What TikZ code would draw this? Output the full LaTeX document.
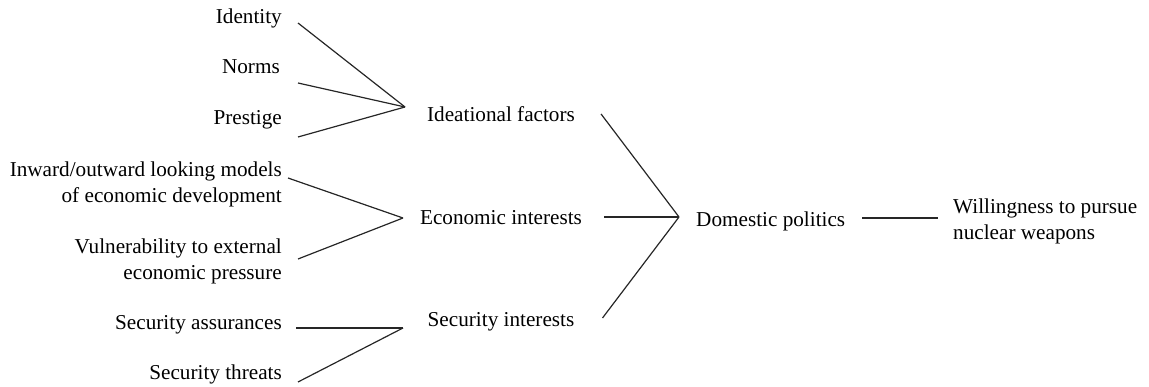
\documentclass[tikz,border=0pt]{standalone}
\usepackage{fontspec}
\setmainfont{Liberation Serif}
\begin{document}
\begin{tikzpicture}[x=1pt,y=-1pt,
  lbl/.style={inner sep=0pt,font=\fontsize{21.2}{26}\selectfont},
  conn/.style={line width=1.2pt,draw=black!85}]
\useasboundingbox (0,0) rectangle (1149,387);
% left column
\node[lbl,anchor=base east] (identity) at (282,24) {Identity};
\node[lbl,anchor=base east] (norms) at (280,74) {Norms};
\node[lbl,anchor=base east] (prestige) at (282,125) {Prestige};
\node[lbl,anchor=east,align=right] (inward) at (282,184) {Inward/outward looking models\\of economic development};
\node[lbl,anchor=east,align=right] (vuln) at (282,261) {Vulnerability to external\hspace{4pt}\\economic pressure};
\node[lbl,anchor=base east] (secass) at (282,330) {Security assurances};
\node[lbl,anchor=base east] (secthr) at (282,380) {Security threats};
% middle column
\node[lbl,anchor=base] (ideational) at (501,122) {Ideational factors};
\node[lbl,anchor=base] (economic) at (501,225) {Economic interests};
\node[lbl,anchor=base] (security) at (501,327) {Security interests};
% right
\node[lbl,anchor=base west] (domestic) at (696,227) {Domestic politics};
\node[lbl,anchor=west,align=left] (willing) at (953,221.5) {Willingness to pursue\\nuclear weapons};
% hubs
\coordinate (hubI) at (405,107);
\coordinate (hubE) at (403,218);
\coordinate (hubS) at (403,328);
\coordinate (hubD) at (679,217);
% connectors
\draw[conn] ([xshift=16pt,yshift=1pt]identity.base east) -- (hubI);
\draw[conn] ([xshift=18pt,yshift=-9pt]norms.base east) -- (hubI);
\draw[conn] ([xshift=16pt,yshift=-12pt]prestige.base east) -- (hubI);
\draw[conn] ([xshift=6pt,yshift=6pt]inward.east) -- (hubE);
\draw[conn] ([xshift=16pt,yshift=2pt]vuln.east) -- (hubE);
\draw[conn] ([xshift=14pt,yshift=2pt]secass.base east) -- (hubS);
\draw[conn] ([xshift=16pt,yshift=-2pt]secthr.base east) -- (hubS);
\draw[conn] ([xshift=26pt,yshift=8pt]ideational.base east) -- (hubD);
\draw[conn] ([xshift=22pt,yshift=8pt]economic.base east) -- (hubD);
\draw[conn] ([xshift=28pt,yshift=9pt]security.base east) -- (hubD);
\draw[conn] ([xshift=17pt,yshift=9pt]domestic.base east) -- ([xshift=-15pt,yshift=3.5pt]willing.west);
\end{tikzpicture}
\end{document}
